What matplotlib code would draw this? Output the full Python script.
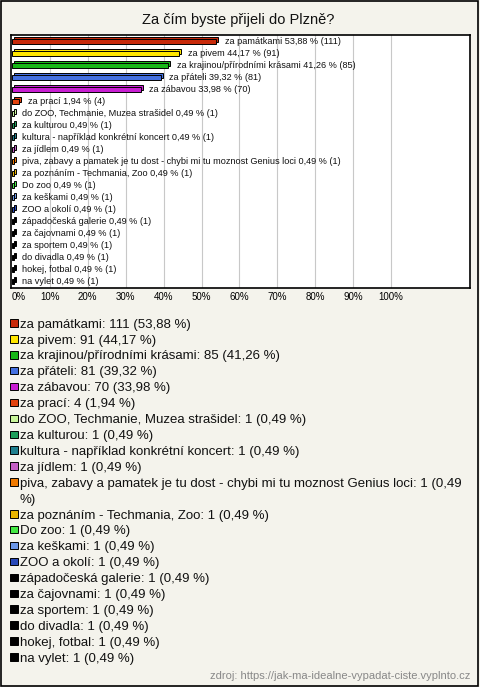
import matplotlib
matplotlib.use("Agg")
import matplotlib.pyplot as plt
from matplotlib.patches import Rectangle

# data
labels = [
    "za památkami", "za pivem", "za krajinou/přírodními krásami", "za přáteli",
    "za zábavou", "za prací", "do ZOO, Techmanie, Muzea strašidel", "za kulturou",
    "kultura - například konkrétní koncert", "za jídlem",
    "piva, zabavy a pamatek je tu dost - chybi mi tu moznost Genius loci",
    "za poznáním - Techmania, Zoo", "Do zoo", "za keškami", "ZOO a okolí",
    "západočeská galerie", "za čajovnami", "za sportem", "do divadla",
    "hokej, fotbal", "na vylet",
]
counts = [111, 91, 85, 81, 70, 4, 1, 1, 1, 1, 1, 1, 1, 1, 1, 1, 1, 1, 1, 1, 1]
percents = [53.88, 44.17, 41.26, 39.32, 33.98, 1.94, 0.49, 0.49, 0.49, 0.49, 0.49,
            0.49, 0.49, 0.49, 0.49, 0.49, 0.49, 0.49, 0.49, 0.49, 0.49]
colors = ["#C82A0A", "#FFE600", "#17B717", "#4470E0", "#C81ED2", "#E2420E",
          "#C8F59A", "#1E9E5A", "#1F7F8E", "#C45EC4", "#F07A00", "#E8B400",
          "#44E844", "#6C98E8", "#2848B8", "#000000", "#000000", "#000000",
          "#000000", "#000000", "#000000"]
ticks = list(range(0, 101, 10))

W, H = 480, 687
BG = "#F4F3EC"
plt.rcParams['font.family'] = ['Liberation Sans', 'DejaVu Sans']

fig = plt.figure(figsize=(W / 100, H / 100), dpi=100, facecolor=BG)

def fx(px):
    return px / W

def fy(py):
    return 1 - py / H

def pct(p):
    return str(p).replace('.', ',')

# outer frame
fig.patches.append(Rectangle((fx(1), fy(686)), fx(477), 685 / H, transform=fig.transFigure,
                             fill=False, edgecolor="black", linewidth=1.2))

fig.text(fx(238), fy(20), "Za čím byste přijeli do Plzně?", ha="center", va="center",
         fontsize=10.5, color="#111111")

# plot area
left, right, top, bottom = 11, 470, 35, 288
ax = fig.add_axes([fx(left), fy(bottom), fx(right - left), (bottom - top) / H])
ax.set_facecolor("white")
pxper = 3.79
ax.set_xlim((left - 12) / pxper, (right - 12) / pxper)
row0, step = 41.7, 12.0
ax.set_ylim((bottom - row0) / step, (top - row0) / step)
for t in ticks[1:]:
    ax.axvline(t, color="#C8C8C8", linewidth=0.8, zorder=0)

n = len(labels)
ys = list(range(n))
h = 0.42
dx, dy = 0.55, -0.16
ax.barh([y + dy for y in ys], percents, left=dx, height=h, color=colors,
        edgecolor="black", linewidth=0.7, zorder=2)
ax.barh(ys, percents, height=h, color=colors, edgecolor="black", linewidth=0.7, zorder=3)
for y, lab, p, c in zip(ys, labels, percents, counts):
    ax.text(p + 2.2, y - 0.05, f"{lab} {pct(p)} % ({c})", va="center", ha="left",
            fontsize=6.6, color="#111111", zorder=4)

ax.set_xticks(ticks)
ax.set_xticklabels([f"{t}%" for t in ticks], fontsize=7)
ax.get_xticklabels()[0].set_horizontalalignment("left")
ax.tick_params(axis="x", length=0, pad=3)
ax.set_yticks([])
for s in ax.spines.values():
    s.set_linewidth(1.2)
    s.set_color("black")

# legend (long entry wraps onto a second line)
ly0, lstep = 323, 15.9
line = 0
for lab, c, p, col in zip(labels, counts, percents, colors):
    txt = f"{lab}: {c} ({pct(p)} %)"
    parts = [txt]
    if len(txt) > 75:
        cut = txt.rfind(" ")
        parts = [txt[:cut], txt[cut + 1:]]
    yc = ly0 + lstep * line
    fig.patches.append(Rectangle((fx(10), fy(yc + 3.75)), fx(7.5), 7.5 / H,
                                 transform=fig.transFigure, facecolor=col,
                                 edgecolor="black", linewidth=0.7))
    for part in parts:
        fig.text(fx(20), fy(ly0 + lstep * line + 4.7), part, ha="left", va="baseline",
                 fontsize=9.5, color="#111111")
        line += 1

fig.text(fx(470), fy(676), "zdroj: https://jak-ma-idealne-vypadat-ciste.vyplnto.cz",
         ha="right", va="center", fontsize=8, color="#888888")

fig.savefig("out.png", dpi=100, facecolor=BG)
